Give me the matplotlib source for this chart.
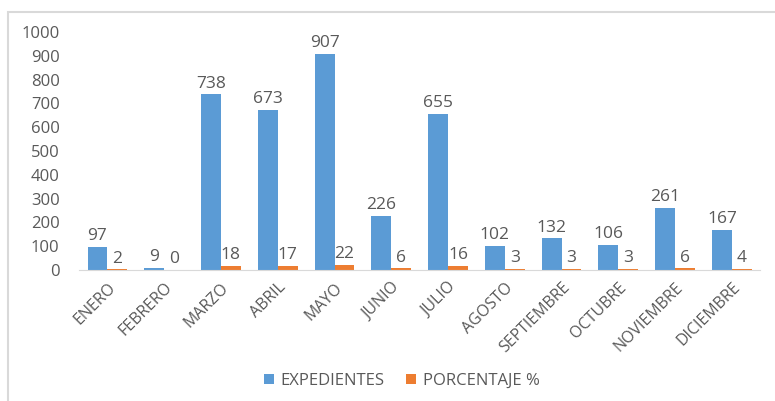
import matplotlib
matplotlib.use("Agg")
from matplotlib import pyplot as plt
from matplotlib.patches import Rectangle
import numpy as np

meses = ["ENERO", "FEBRERO", "MARZO", "ABRIL", "MAYO", "JUNIO", "JULIO",
         "AGOSTO", "SEPTIEMBRE", "OCTUBRE", "NOVIEMBRE", "DICIEMBRE"]
expedientes = [97, 9, 738, 673, 907, 226, 655, 102, 132, 106, 261, 167]
porcentaje = [2, 0, 18, 17, 22, 6, 16, 3, 3, 3, 6, 4]

azul = "#5B9BD5"
naranja = "#ED7D31"
gris = "#595959"

plt.rcParams['font.family'] = ['Open Sans', 'DejaVu Sans']

fig = plt.figure(figsize=(7.75, 4.01), dpi=100)
ax = fig.add_axes([0.102, 0.327, 0.879, 0.593])

# marco del grafico
fig.patches.append(Rectangle((8 / 775, -0.1), 1.2, 1 - 12 / 401 + 0.1,
                             transform=fig.transFigure, fill=False,
                             edgecolor="#D9D9D9", linewidth=1.5))

x = np.arange(len(meses))
w = 0.35
b1 = ax.bar(x - w / 2, expedientes, w, color=azul, label="EXPEDIENTES")
b2 = ax.bar(x + w / 2, porcentaje, w, color=naranja, label="PORCENTAJE %")

for barras, vals in ((b1, expedientes), (b2, porcentaje)):
    for r, v in zip(barras, vals):
        ax.text(r.get_x() + r.get_width() / 2, v + 12, str(v), ha="center",
                va="bottom", fontsize=12.5, color=gris)

ax.set_xlim(-0.5, len(meses) - 0.5)
ax.set_ylim(0, 1000)
ax.set_yticks(range(0, 1001, 100))
ax.set_xticks(x)
ax.set_xticklabels(meses, rotation=45, ha="right", rotation_mode="anchor")
ax.tick_params(length=0, labelcolor=gris)
ax.tick_params(axis="y", pad=14, labelsize=12)
ax.tick_params(axis="x", pad=7, labelsize=11.5)
for s in ("top", "right", "left"):
    ax.spines[s].set_visible(False)
ax.spines["bottom"].set_color("#D9D9D9")

fig.legend(loc="center", bbox_to_anchor=(0.518, 0.05), ncol=2, frameon=False,
           fontsize=12, labelcolor=gris, handlelength=0.6, handleheight=0.6,
           columnspacing=1.3, handletextpad=0.4)

fig.savefig("out.png", dpi=100)
